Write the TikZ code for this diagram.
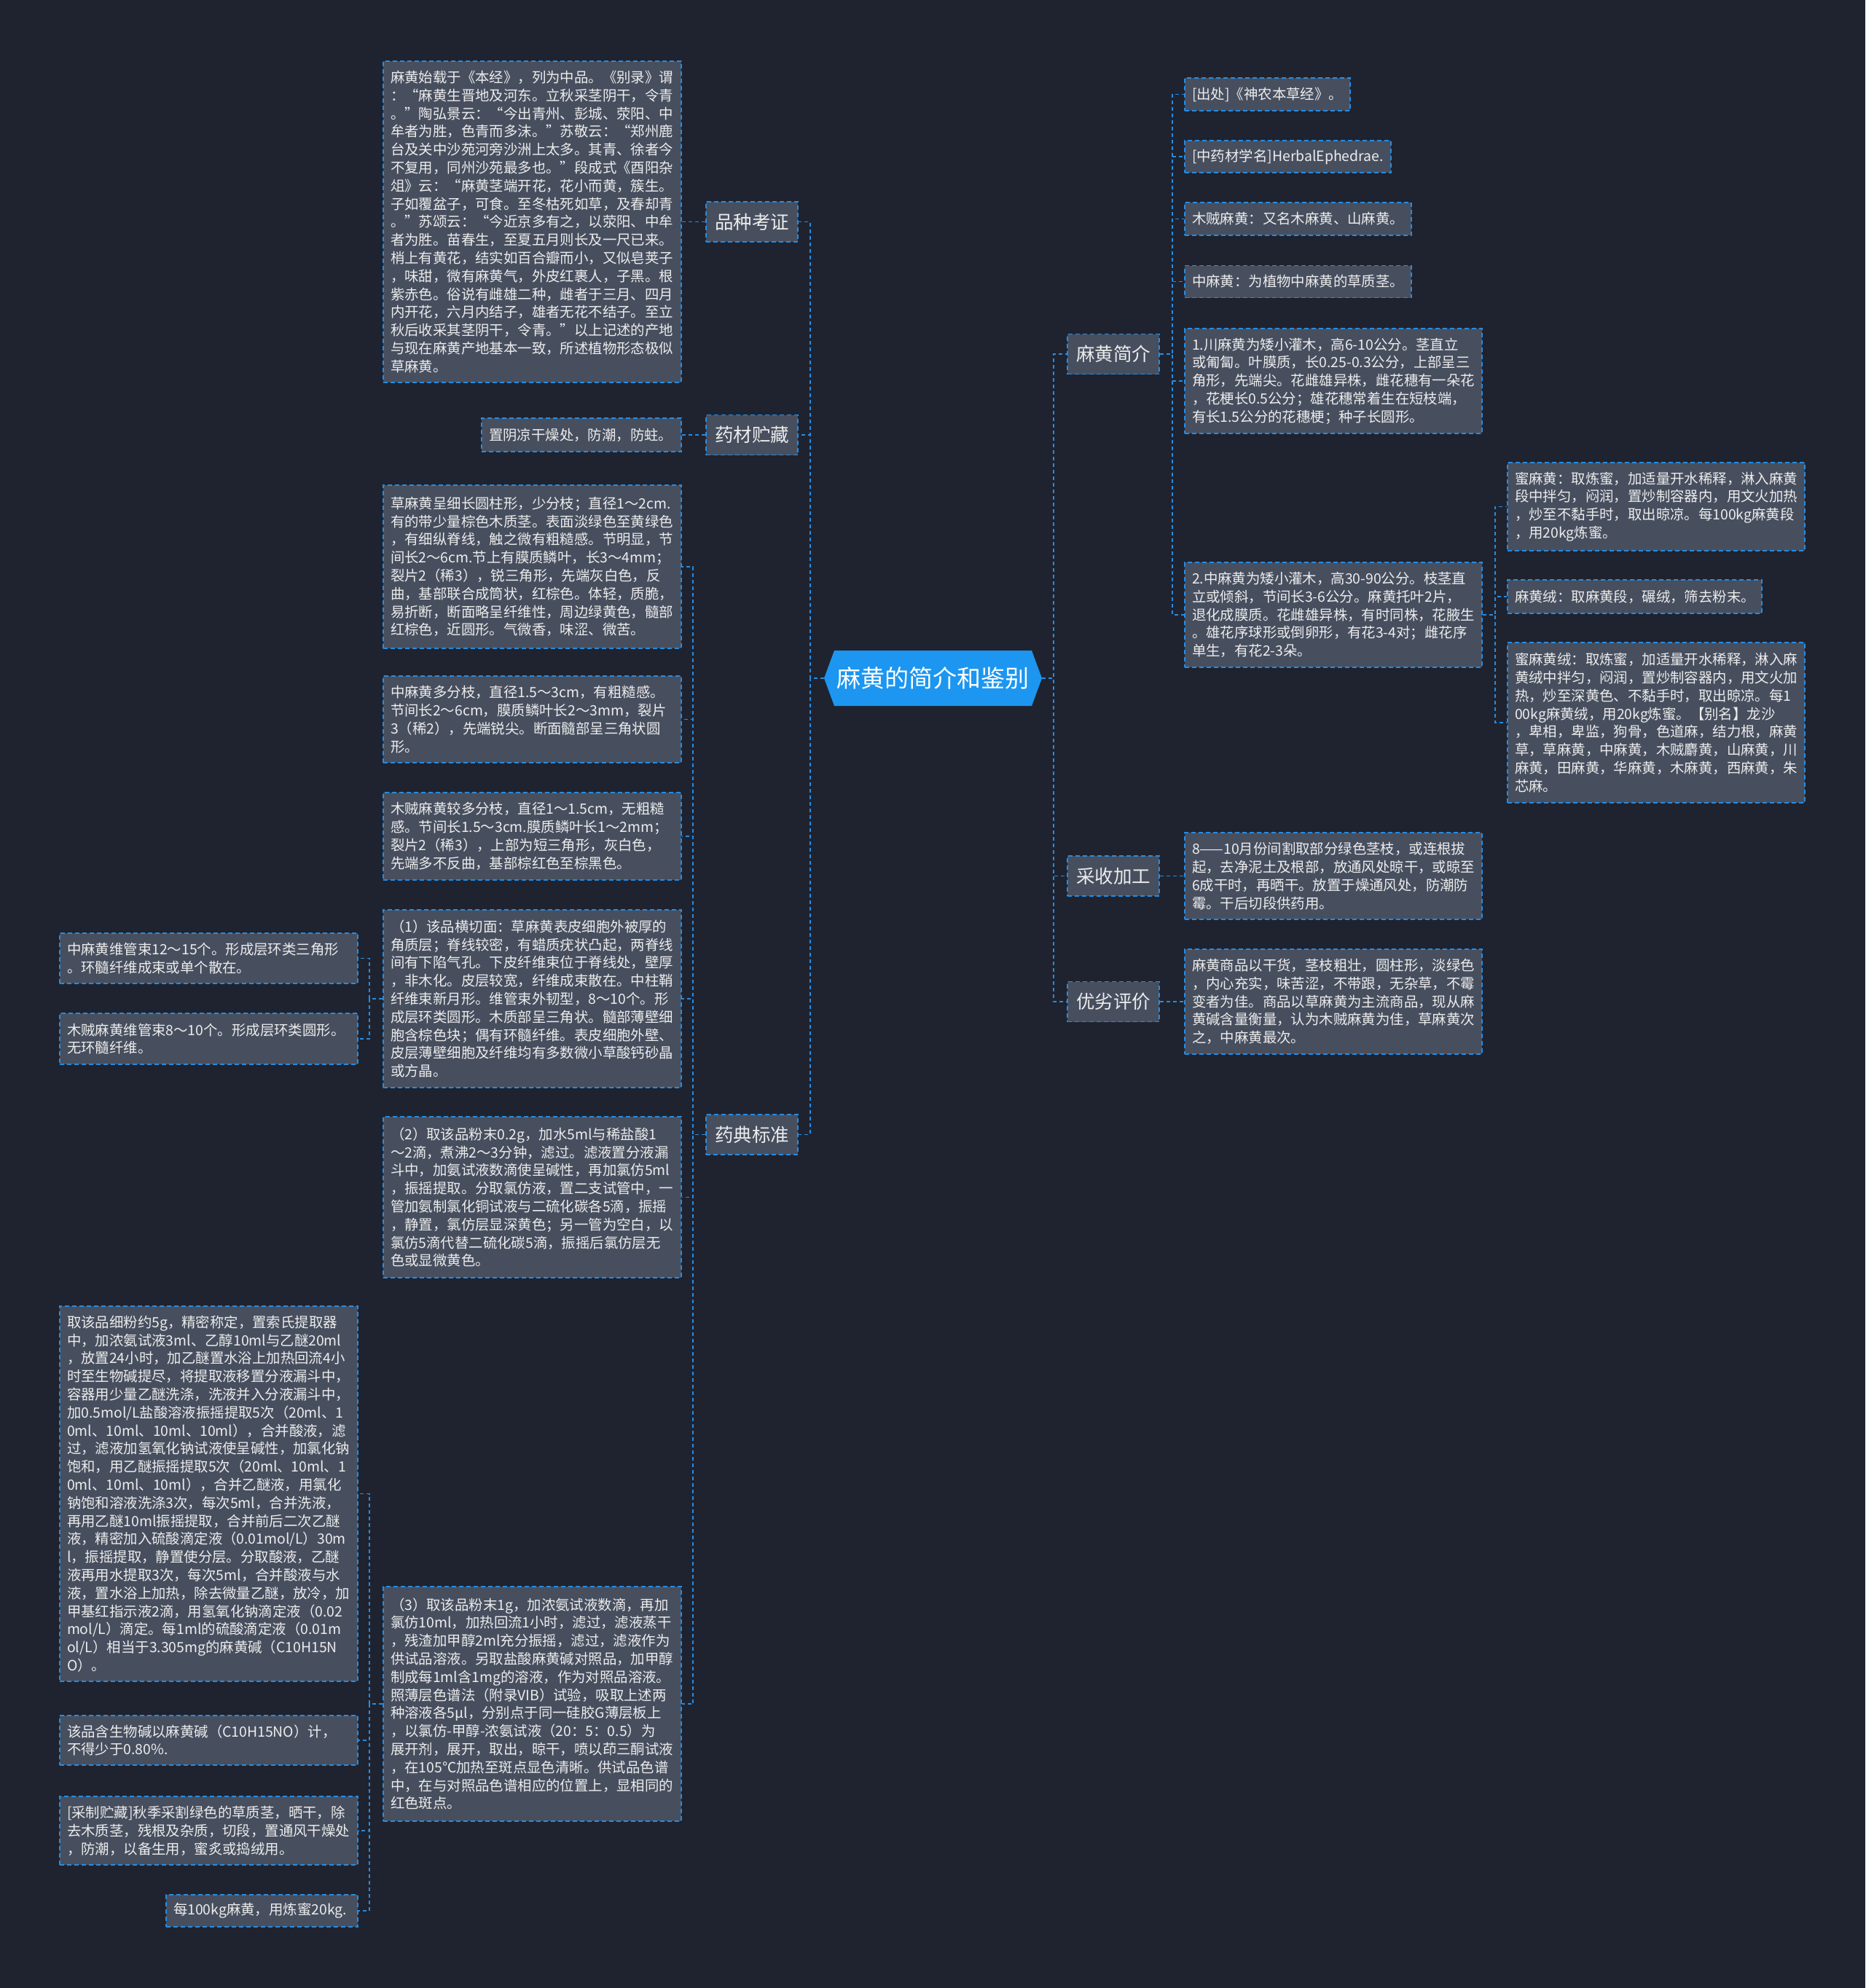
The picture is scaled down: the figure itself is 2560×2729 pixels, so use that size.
\documentclass[tikz,border=0pt]{standalone}
\usepackage{fontspec}
\setmainfont{Noto Sans CJK SC}
\usetikzlibrary{positioning}
\definecolor{bgc}{RGB}{31,35,47}
\definecolor{boxfill}{RGB}{71,79,95}
\definecolor{edgec}{RGB}{36,140,228}
\definecolor{rootblue}{RGB}{28,150,240}
\definecolor{txtc}{RGB}{236,236,236}
\hyphenpenalty=10000
\exhyphenpenalty=10000
\newcommand{\leaffont}{\fontsize{19.4pt}{24.8pt}\selectfont}
\newcommand{\branchfont}{\fontsize{25.5pt}{30pt}\selectfont}
\newcommand{\rootfont}{\fontsize{33pt}{40pt}\selectfont}
\tikzset{
  leafbox/.style={draw=edgec, line width=1.6pt, dash pattern=on 6pt off 4pt, fill=boxfill,
    text=txtc, font=\leaffont, align=left, inner xsep=10pt, inner ysep=0pt},
  branchbox/.style={draw=edgec, line width=1.6pt, dash pattern=on 6pt off 4pt, fill=boxfill,
    text=txtc, font=\branchfont, minimum width=126pt, minimum height=55pt, inner sep=0pt},
  rootbox/.style={text=white, font=\rootfont, minimum width=299pt, minimum height=76pt, inner sep=0pt},
  conn/.style={draw=edgec, line width=1.6pt, dash pattern=on 5pt off 4pt}
}
\begin{document}
\begin{tikzpicture}[x=1pt,y=-1pt]
\useasboundingbox (0,0) rectangle (2560,2729);
\fill[bgc] (0,0) rectangle (2560,2729);

% root
\fill[rootblue] (1131,931) -- (1145,893) -- (1416,893) -- (1430,931) -- (1416,969) -- (1145,969) -- cycle;
\node[rootbox] (root) at (1280.5,931) {麻黄的简介和鉴别};

% left branches
\node[branchbox] (pz) at (1032,304.5) {品种考证};
\node[branchbox] (yc) at (1032,597) {药材贮藏};
\node[branchbox] (yd) at (1032,1557.5) {药典标准};
% right branches
\node[branchbox] (jj) at (1528,486) {麻黄简介};
\node[branchbox] (cs) at (1528,1202.5) {采收加工};
\node[branchbox] (yl) at (1528,1375) {优劣评价};

% left leaves
\node[leafbox, text width=389pt, minimum height=441pt] (L1) at (730.5,304.5) {麻黄始载于《本经》，列为中品。《别录》谓\\
：“麻黄生晋地及河东。立秋采茎阴干，令青\\
。”陶弘景云：“今出青州、彭城、荥阳、中\\
牟者为胜，色青而多沫。”苏敬云：“郑州鹿\\
台及关中沙苑河旁沙洲上太多。其青、徐者今\\
不复用，同州沙苑最多也。”段成式《酉阳杂\\
俎》云：“麻黄茎端开花，花小而黄，簇生。\\
子如覆盆子，可食。至冬枯死如草，及春却青\\
。”苏颂云：“今近京多有之，以荥阳、中牟\\
者为胜。苗春生，至夏五月则长及一尺已来。\\
梢上有黄花，结实如百合瓣而小，又似皂荚子\\
，味甜，微有麻黄气，外皮红裹人，子黑。根\\
紫赤色。俗说有雌雄二种，雌者于三月、四月\\
内开花，六月内结子，雄者无花不结子。至立\\
秋后收采其茎阴干，令青。”以上记述的产地\\
与现在麻黄产地基本一致，所述植物形态极似\\
草麻黄。};
\node[leafbox, text width=254pt, minimum height=46pt] (L2) at (798,597) {置阴凉干燥处，防潮，防蛀。};
\node[leafbox, text width=389pt, minimum height=224pt] (L3) at (730.5,778) {草麻黄呈细长圆柱形，少分枝；直径1～2cm.\\
有的带少量棕色木质茎。表面淡绿色至黄绿色\\
，有细纵脊线，触之微有粗糙感。节明显，节\\
间长2～6cm.节上有膜质鳞叶，长3～4mm；\\
裂片2（稀3），锐三角形，先端灰白色，反\\
曲，基部联合成筒状，红棕色。体轻，质脆，\\
易折断，断面略呈纤维性，周边绿黄色，髓部\\
红棕色，近圆形。气微香，味涩、微苦。};
\node[leafbox, text width=389pt, minimum height=119pt] (L4) at (730.5,987.5) {中麻黄多分枝，直径1.5～3cm，有粗糙感。\\
节间长2～6cm，膜质鳞叶长2～3mm，裂片\\
3（稀2），先端锐尖。断面髓部呈三角状圆\\
形。};
\node[leafbox, text width=389pt, minimum height=120pt] (L5) at (730.5,1148) {木贼麻黄较多分枝，直径1～1.5cm，无粗糙\\
感。节间长1.5～3cm.膜质鳞叶长1～2mm；\\
裂片2（稀3），上部为短三角形，灰白色，\\
先端多不反曲，基部棕红色至棕黑色。};
\node[leafbox, text width=389pt, minimum height=244pt] (L6) at (730.5,1371) {（1）该品横切面：草麻黄表皮细胞外被厚的\\
角质层；脊线较密，有蜡质疣状凸起，两脊线\\
间有下陷气孔。下皮纤维束位于脊线处，壁厚\\
，非木化。皮层较宽，纤维成束散在。中柱鞘\\
纤维束新月形。维管束外韧型，8～10个。形\\
成层环类圆形。木质部呈三角状。髓部薄壁细\\
胞含棕色块；偶有环髓纤维。表皮细胞外壁、\\
皮层薄壁细胞及纤维均有多数微小草酸钙砂晶\\
或方晶。};
\node[leafbox, text width=389pt, minimum height=221pt] (L7) at (730.5,1643.5) {（2）取该品粉末0.2g，加水5ml与稀盐酸1\\
～2滴，煮沸2～3分钟，滤过。滤液置分液漏\\
斗中，加氨试液数滴使呈碱性，再加氯仿5ml\\
，振摇提取。分取氯仿液，置二支试管中，一\\
管加氨制氯化铜试液与二硫化碳各5滴，振摇\\
，静置，氯仿层显深黄色；另一管为空白，以\\
氯仿5滴代替二硫化碳5滴，振摇后氯仿层无\\
色或显微黄色。};
\node[leafbox, text width=389pt, minimum height=322pt] (L8) at (730.5,2339) {（3）取该品粉末1g，加浓氨试液数滴，再加\\
氯仿10ml，加热回流1小时，滤过，滤液蒸干\\
，残渣加甲醇2ml充分振摇，滤过，滤液作为\\
供试品溶液。另取盐酸麻黄碱对照品，加甲醇\\
制成每1ml含1mg的溶液，作为对照品溶液。\\
照薄层色谱法（附录VIB）试验，吸取上述两\\
种溶液各5μl，分别点于同一硅胶G薄层板上\\
，以氯仿-甲醇-浓氨试液（20：5：0.5）为\\
展开剂，展开，取出，晾干，喷以茚三酮试液\\
，在105℃加热至斑点显色清晰。供试品色谱\\
中，在与对照品色谱相应的位置上，显相同的\\
红色斑点。};

% far-left leaves
\node[leafbox, text width=389pt, minimum height=69pt] (F1) at (286.5,1315.5) {中麻黄维管束12～15个。形成层环类三角形\\
。环髓纤维成束或单个散在。};
\node[leafbox, text width=389pt, minimum height=70pt] (F2) at (286.5,1426) {木贼麻黄维管束8～10个。形成层环类圆形。\\
无环髓纤维。};
\node[leafbox, text width=389pt, minimum height=515pt] (F3) at (286.5,2050.5) {取该品细粉约5g，精密称定，置索氏提取器\\
中，加浓氨试液3ml、乙醇10ml与乙醚20ml\\
，放置24小时，加乙醚置水浴上加热回流4小\\
时至生物碱提尽，将提取液移置分液漏斗中，\\
容器用少量乙醚洗涤，洗液并入分液漏斗中，\\
加0.5mol/L盐酸溶液振摇提取5次（20ml、1\\
0ml、10ml、10ml、10ml），合并酸液，滤\\
过，滤液加氢氧化钠试液使呈碱性，加氯化钠\\
饱和，用乙醚振摇提取5次（20ml、10ml、1\\
0ml、10ml、10ml），合并乙醚液，用氯化\\
钠饱和溶液洗涤3次，每次5ml，合并洗液，\\
再用乙醚10ml振摇提取，合并前后二次乙醚\\
液，精密加入硫酸滴定液（0.01mol/L）30m\\
l，振摇提取，静置使分层。分取酸液，乙醚\\
液再用水提取3次，每次5ml，合并酸液与水\\
液，置水浴上加热，除去微量乙醚，放冷，加\\
甲基红指示液2滴，用氢氧化钠滴定液（0.02\\
mol/L）滴定。每1ml的硫酸滴定液（0.01m\\
ol/L）相当于3.305mg的麻黄碱（C10H15N\\
O）。};
\node[leafbox, text width=389pt, minimum height=68pt] (F4) at (286.5,2389) {该品含生物碱以麻黄碱（C10H15NO）计，\\
不得少于0.80\%.};
\node[leafbox, text width=389pt, minimum height=94pt] (F5) at (286.5,2513) {[采制贮藏]秋季采割绿色的草质茎，晒干，除\\
去木质茎，残根及杂质，切段，置通风干燥处\\
，防潮，以备生用，蜜炙或捣绒用。};
\node[leafbox, text width=243pt, minimum height=44pt] (F6) at (359.5,2623) {每100kg麻黄，用炼蜜20kg.};

% right leaves
\node[leafbox, text width=207pt, minimum height=45pt] (R1) at (1739.5,129.5) {[出处]《神农本草经》。};
\node[leafbox, text width=263pt, minimum height=44pt] (R2) at (1767.5,215) {[中药材学名]HerbalEphedrae.};
\node[leafbox, text width=291pt, minimum height=45pt] (R3) at (1781.5,300.5) {木贼麻黄：又名木麻黄、山麻黄。};
\node[leafbox, text width=291pt, minimum height=44pt] (R4) at (1781.5,386.5) {中麻黄：为植物中麻黄的草质茎。};
\node[leafbox, text width=388pt, minimum height=144pt] (R5) at (1830,523) {1.川麻黄为矮小灌木，高6-10公分。茎直立\\
或匍匐。叶膜质，长0.25-0.3公分，上部呈三\\
角形，先端尖。花雌雄异株，雌花穗有一朵花\\
，花梗长0.5公分；雄花穗常着生在短枝端，\\
有长1.5公分的花穗梗；种子长圆形。};
\node[leafbox, text width=388pt, minimum height=144pt] (R6) at (1830,844) {2.中麻黄为矮小灌木，高30-90公分。枝茎直\\
立或倾斜，节间长3-6公分。麻黄托叶2片，\\
退化成膜质。花雌雄异株，有时同株，花腋生\\
。雄花序球形或倒卵形，有花3-4对；雌花序\\
单生，有花2-3朵。};
\node[leafbox, text width=388pt, minimum height=121pt] (Q1) at (2273,695.5) {蜜麻黄：取炼蜜，加适量开水稀释，淋入麻黄\\
段中拌匀，闷润，置炒制容器内，用文火加热\\
，炒至不黏手时，取出晾凉。每100kg麻黄段\\
，用20kg炼蜜。};
\node[leafbox, text width=329pt, minimum height=46pt] (Q2) at (2243.5,819) {麻黄绒：取麻黄段，碾绒，筛去粉末。};
\node[leafbox, text width=388pt, minimum height=220pt] (Q3) at (2273,992) {蜜麻黄绒：取炼蜜，加适量开水稀释，淋入麻\\
黄绒中拌匀，闷润，置炒制容器内，用文火加\\
热，炒至深黄色、不黏手时，取出晾凉。每1\\
00kg麻黄绒，用20kg炼蜜。【别名】龙沙\\
，卑相，卑监，狗骨，色道麻，结力根，麻黄\\
草，草麻黄，中麻黄，木贼麝黄，山麻黄，川\\
麻黄，田麻黄，华麻黄，木麻黄，西麻黄，朱\\
芯麻。};
\node[leafbox, text width=388pt, minimum height=119pt] (R7) at (1830,1202.5) {8——10月份间割取部分绿色茎枝，或连根拔\\
起，去净泥土及根部，放通风处晾干，或晾至\\
6成干时，再晒干。放置于燥通风处，防潮防\\
霉。干后切段供药用。};
\node[leafbox, text width=388pt, minimum height=144pt] (R8) at (1830,1375) {麻黄商品以干货，茎枝粗壮，圆柱形，淡绿色\\
，内心充实，味苦涩，不带跟，无杂草，不霉\\
变者为佳。商品以草麻黄为主流商品，现从麻\\
黄碱含量衡量，认为木贼麻黄为佳，草麻黄次\\
之，中麻黄最次。};

% connectors: root to branches
\foreach \b in {pz,yc,yd} \draw[conn] (root.west) -- ++(-19,0) |- (\b.east);
\foreach \b in {jj,cs,yl} \draw[conn] (root.east) -- ++(16,0) |- (\b.west);
% left branches to leaves
\draw[conn] (pz.west) -- (L1.east);
\draw[conn] (yc.west) -- (L2.east);
\foreach \c in {L3,L4,L5,L6,L7,L8} \draw[conn] (yd.west) -- ++(-17,0) |- (\c.east);
\foreach \c in {F1,F2} \draw[conn] (L6.west) -- ++(-18,0) |- (\c.east);
\foreach \c in {F3,F4,F5,F6} \draw[conn] (L8.west) -- ++(-18,0) |- (\c.east);
% right branches to leaves
\foreach \c in {R1,R2,R3,R4,R5,R6} \draw[conn] (jj.east) -- ++(17,0) |- (\c.west);
\foreach \c in {Q1,Q2,Q3} \draw[conn] (R6.east) -- ++(17,0) |- (\c.west);
\draw[conn] (cs.east) -- (R7.west);
\draw[conn] (yl.east) -- (R8.west);
\end{tikzpicture}
\end{document}
